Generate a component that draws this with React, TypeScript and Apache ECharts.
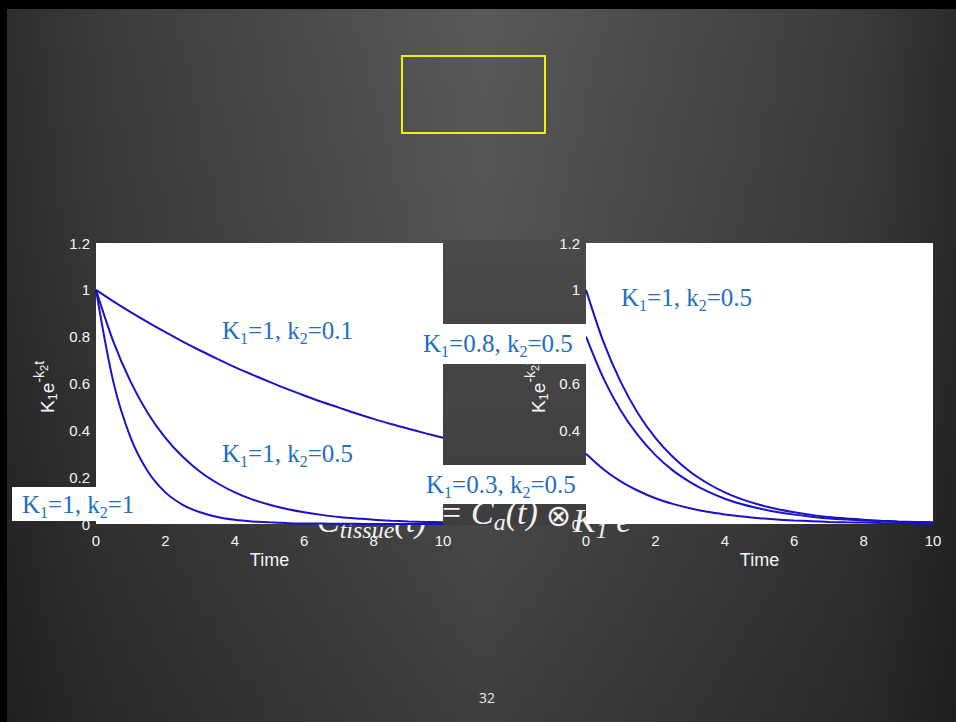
import React, { useEffect, useRef } from "react";
import * as echarts from "echarts";

// ---- data ----
const TIME = [0, 0.5, 1, 1.5, 2, 2.5, 3, 3.5, 4, 4.5, 5, 5.5, 6, 6.5, 7, 7.5, 8, 8.5, 9, 9.5, 10];
// left panel: K1 = 1, k2 = 0.1 / 0.5 / 1
const LEFT_K2_01 = [1, 0.951, 0.905, 0.861, 0.819, 0.779, 0.741, 0.705, 0.67, 0.638, 0.607, 0.577, 0.549, 0.522, 0.497, 0.472, 0.449, 0.427, 0.407, 0.387, 0.368];
const LEFT_K2_05 = [1, 0.779, 0.607, 0.472, 0.368, 0.287, 0.223, 0.174, 0.135, 0.105, 0.082, 0.064, 0.05, 0.039, 0.03, 0.024, 0.018, 0.014, 0.011, 0.009, 0.007];
const LEFT_K2_1 = [1, 0.607, 0.368, 0.223, 0.135, 0.082, 0.05, 0.03, 0.018, 0.011, 0.007, 0.004, 0.002, 0.002, 0.001, 0.001, 0, 0, 0, 0, 0];
// right panel: k2 = 0.5, K1 = 1 / 0.8 / 0.3
const RIGHT_K1_1 = [1, 0.779, 0.607, 0.472, 0.368, 0.287, 0.223, 0.174, 0.135, 0.105, 0.082, 0.064, 0.05, 0.039, 0.03, 0.024, 0.018, 0.014, 0.011, 0.009, 0.007];
const RIGHT_K1_08 = [0.8, 0.623, 0.485, 0.378, 0.294, 0.229, 0.179, 0.139, 0.108, 0.084, 0.066, 0.051, 0.04, 0.031, 0.024, 0.019, 0.015, 0.012, 0.009, 0.007, 0.005];
const RIGHT_K1_03 = [0.3, 0.234, 0.182, 0.142, 0.11, 0.086, 0.067, 0.052, 0.041, 0.032, 0.025, 0.019, 0.015, 0.012, 0.009, 0.007, 0.006, 0.004, 0.003, 0.003, 0.002];

const LABEL_K1 = ["1", "1", "1", "0.8", "0.3", "1"];
const LABEL_K2 = ["0.1", "0.5", "1", "0.5", "0.5", "0.5"];
const X_NAME = "Time";
const PAGE_NO = "32";

// ---- layout (positions / styles) ----
const LABEL_BASELINES: number[][] = [
  [222, 339],
  [222, 462],
  [22, 513],
  [423, 352],
  [426, 493],
  [621, 306],
];
const LABEL_BOXES: number[][] = [
  [12, 487, 138, 34],
  [415, 324, 171, 40],
  [418, 465, 168, 39],
];
const BLUE_TEXT = "#1e6fc2";
const LINE_BLUE = "#1a12c8";
const WHITE = "#f4f4f4";
const SANS = "Liberation Sans";
const SERIF = "Liberation Serif";

function pairs(ys: number[]) {
  return TIME.map((t, i) => [t, ys[i]]);
}

function labelEl(i: number) {
  const [x, base] = LABEL_BASELINES[i];
  return {
    type: "text",
    x,
    y: base - 8.44,
    z: 12,
    style: {
      text: `K{s|1}=${LABEL_K1[i]}, k{s|2}=${LABEL_K2[i]}`,
      fontFamily: SERIF,
      fontSize: 25,
      fill: BLUE_TEXT,
      align: "left",
      verticalAlign: "middle",
      rich: {
        s: { fontFamily: SERIF, fontSize: 16, fill: BLUE_TEXT, padding: [16, 0, 0, 0] },
      },
    },
  };
}

function yNameEl(x: number, y: number) {
  return {
    type: "text",
    x,
    y,
    z: 5,
    rotation: Math.PI / 2,
    style: {
      text: "K{sub|1}e{sup|-k}{ssub|2}{sup|t}",
      fontFamily: SANS,
      fontSize: 19,
      fill: WHITE,
      align: "center",
      verticalAlign: "middle",
      rich: {
        sub: { fontFamily: SANS, fontSize: 13, fill: WHITE, padding: [10, 0, 0, 0] },
        sup: { fontFamily: SANS, fontSize: 14, fill: WHITE, padding: [0, 0, 16, 0] },
        ssub: { fontFamily: SANS, fontSize: 11, fill: WHITE, padding: [0, 0, 6, 0] },
      },
    },
  };
}

function formulaEl(x: number, baseline: number, text: string, opts: any = {}) {
  const size = opts.size || 34;
  return {
    type: "text",
    x,
    y: baseline - 0.3375 * size + (opts.dy || 0),
    z: -10,
    style: {
      text,
      fontFamily: opts.family || SERIF,
      fontStyle: opts.upright ? "normal" : "italic",
      fontSize: size,
      fill: "#f2f2f2",
      align: "left",
      verticalAlign: "middle",
      rich: {
        s: { fontFamily: SERIF, fontStyle: "italic", fontSize: 24, fill: "#f2f2f2", padding: [19, 0, 0, 0] },
        sp: { fontFamily: SERIF, fontStyle: "italic", fontSize: 22, fill: "#f2f2f2", padding: [0, 0, 24, 0] },
        sps: { fontFamily: SERIF, fontStyle: "italic", fontSize: 16, fill: "#f2f2f2", padding: [0, 0, 10, 0] },
      },
    },
  };
}

export default function App() {
  const ref = useRef<HTMLDivElement>(null);

  useEffect(() => {
    if (!ref.current) return;
    const chart = echarts.init(ref.current, undefined, { renderer: "svg" });

    const axisLabel = { color: WHITE, fontSize: 15, fontFamily: SANS };
    const xAxisBase = (gridIndex: number) => ({
      gridIndex,
      type: "value",
      min: 0,
      max: 10,
      interval: 2,
      axisLine: { show: false },
      axisTick: { show: false },
      splitLine: { show: false },
      axisLabel: { ...axisLabel, margin: 9 },
      name: X_NAME,
      nameLocation: "middle",
      nameGap: 27,
      nameTextStyle: { color: WHITE, fontSize: 18, fontFamily: SANS },
    });
    const yAxisBase = (gridIndex: number) => ({
      gridIndex,
      type: "value",
      min: 0,
      max: 1.2,
      interval: 0.2,
      axisLine: { show: false },
      axisTick: { show: false },
      splitLine: { show: false },
      axisLabel: {
        ...axisLabel,
        margin: 6,
        formatter: (v: number) => String(+v.toFixed(1)),
      },
    });
    const lineSeries = (xi: number, ys: number[]) => ({
      type: "line",
      xAxisIndex: xi,
      yAxisIndex: xi,
      data: pairs(ys),
      showSymbol: false,
      smooth: 0.3,
      lineStyle: { color: LINE_BLUE, width: 2 },
      itemStyle: { color: LINE_BLUE },
    });

    const bgH = new echarts.graphic.LinearGradient(0, 0, 1, 0, [
      { offset: 0, color: "#2e2e2e" },
      { offset: 0.1, color: "#3b3b3b" },
      { offset: 0.5, color: "#595959" },
      { offset: 0.9, color: "#3b3b3b" },
      { offset: 1, color: "#2b2b2b" },
    ]);
    const bgV = new echarts.graphic.LinearGradient(0, 0, 0, 1, [
      { offset: 0, color: "rgba(0,0,0,0)" },
      { offset: 0.35, color: "rgba(0,0,0,0.06)" },
      { offset: 1, color: "rgba(0,0,0,0.3)" },
    ]);
    const block = new echarts.graphic.LinearGradient(0, 0, 0, 1, [
      { offset: 0, color: "#4a4a4a" },
      { offset: 1, color: "#3e3e3e" },
    ]);

    const graphics: any[] = [
      { type: "rect", z: -40, shape: { x: 0, y: 0, width: 956, height: 722 }, style: { fill: "#000" } },
      { type: "rect", z: -39, shape: { x: 7, y: 9, width: 949, height: 713 }, style: { fill: bgH } },
      { type: "rect", z: -38, shape: { x: 7, y: 9, width: 949, height: 713 }, style: { fill: bgV } },
      { type: "rect", z: -20, shape: { x: 402, y: 56, width: 143, height: 77 }, style: { fill: "none", stroke: "#f5f200", lineWidth: 2 } },
      { type: "rect", z: -20, shape: { x: 443, y: 240, width: 143, height: 285 }, style: { fill: block } },
      // formula (partly hidden behind the plots)
      formulaEl(317, 532, "C{s|tissue}(t)"),
      formulaEl(442, 524, "=", { upright: true }),
      formulaEl(471, 524, "C{s|a}(t)"),
      formulaEl(546, 524, "\u2297", { upright: true, family: "DejaVu Sans", size: 30, dy: 1.5 }),
      formulaEl(573, 532, "K{s|1} e{sp|\u2212k}{sps|2}{sp|t}"),
      // white label boxes
      ...LABEL_BOXES.map((b) => ({
        type: "rect",
        z: 11,
        shape: { x: b[0], y: b[1], width: b[2], height: b[3] },
        style: { fill: "#ffffff" },
      })),
      ...LABEL_K1.map((_, i) => labelEl(i)),
      yNameEl(47, 387),
      yNameEl(538, 387),
      {
        type: "text",
        z: 5,
        x: 487,
        y: 697,
        style: { text: PAGE_NO, fontFamily: "Open Sans", fontSize: 14, fill: "#e6e6e6", align: "center", verticalAlign: "middle" },
      },
    ];

    chart.setOption({
      animation: false,
      grid: [
        { left: 96, top: 243, width: 347, height: 281, show: true, backgroundColor: "#ffffff", borderWidth: 0 },
        { left: 586, top: 243, width: 347, height: 281, show: true, backgroundColor: "#ffffff", borderWidth: 0 },
      ],
      xAxis: [xAxisBase(0), xAxisBase(1)],
      yAxis: [yAxisBase(0), yAxisBase(1)],
      series: [
        lineSeries(0, LEFT_K2_01),
        lineSeries(0, LEFT_K2_05),
        lineSeries(0, LEFT_K2_1),
        lineSeries(1, RIGHT_K1_1),
        lineSeries(1, RIGHT_K1_08),
        lineSeries(1, RIGHT_K1_03),
      ],
      graphic: { elements: graphics },
    });

    return () => chart.dispose();
  }, []);

  return (
    <div
      ref={ref}
      style={{ position: "absolute", left: 0, top: 0, width: 956, height: 722 }}
    />
  );
}
